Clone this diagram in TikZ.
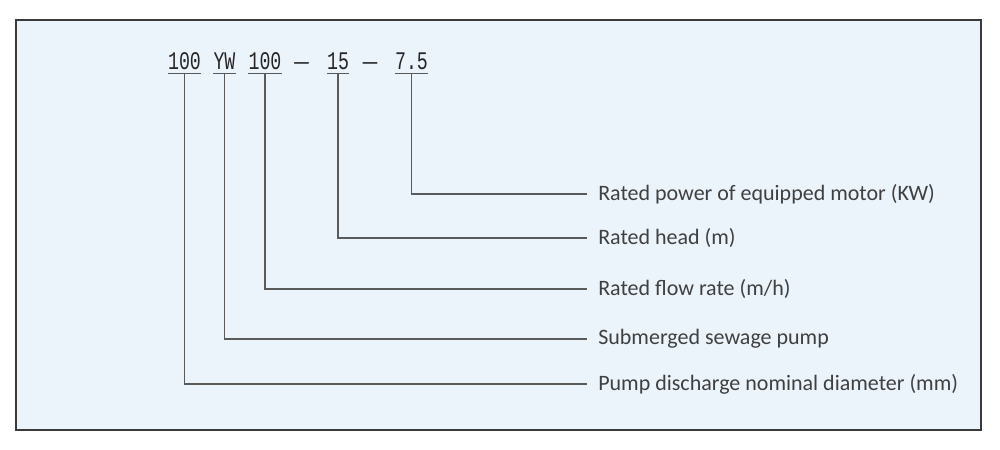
\documentclass[tikz,border=0pt]{standalone}
\usepackage{fontspec}
\setmainfont{Carlito}
\newfontfamily\codefont[FakeStretch=0.72]{Liberation Mono}
\newfontfamily\dashfont{Liberation Mono}
\definecolor{panel}{HTML}{EBF3FB}
\definecolor{frame}{HTML}{3A3A3A}
\definecolor{wire}{HTML}{5A5A5A}
\definecolor{ink}{HTML}{404040}
\tikzset{
  code/.style={anchor=base, inner xsep=0pt, inner ysep=3.4pt, text depth=0pt,
    font=\codefont\fontsize{19pt}{19pt}\selectfont, text=black!85},
  dashsign/.style={anchor=base, inner sep=0pt, font=\dashfont\fontsize{18pt}{18pt}\selectfont, text=black!85},
  uline/.style={wire, line width=1pt},
  conn/.style={wire, line width=1pt},
  lbl/.style={anchor=west, inner xsep=8.25pt, inner ysep=0pt, text=ink,
    font=\fontsize{16.5pt}{18pt}\selectfont}
}
\begin{document}
\begin{tikzpicture}[x=0.75pt, y=-0.75pt]
        % fondo y marco
        \useasboundingbox (0,0) rectangle (1000,450);
        \draw[frame, line width=1.5pt, fill=panel] (16,20) rectangle (981,430);

        % codigo del modelo
        \node[code, minimum width=24.75pt] (dia) at (184.5,69) {100};
        \node[code, minimum width=14.25pt] (yw) at (224.5,69) {YW};
        \node[code, minimum width=24pt] (flow) at (265,69) {100};
        \node[dashsign] (d1) at (301.5,69) {—};
        \node[code, minimum width=16.5pt] (head) at (338,69) {15};
        \node[dashsign] (d2) at (370,69) {—};
        \node[code, minimum width=24.75pt] (pow) at (411.5,69) {7.5};
        \foreach \n in {dia,yw,flow,head,pow}
            \draw[uline] (\n.south west) -- (\n.south east);

        % textos
        \node[lbl] (tpow) at (587,194) {Rated power of equipped motor (KW)};
        \node[lbl] (thead) at (587,238) {Rated head (m)};
        \node[lbl] (tflow) at (587,289) {Rated flow rate (m/h)};
        \node[lbl] (tyw) at (587,339) {Submerged sewage pump};
        \node[lbl] (tdia) at (587,384) {Pump discharge nominal diameter (mm)};

        % lineas
        \draw[conn] (pow.south) |- (tpow.west);
        \draw[conn] (head.south) |- (thead.west);
        \draw[conn] (flow.south) |- (tflow.west);
        \draw[conn] (yw.south) |- (tyw.west);
        \draw[conn] (dia.south) |- (tdia.west);
\end{tikzpicture}
\end{document}
